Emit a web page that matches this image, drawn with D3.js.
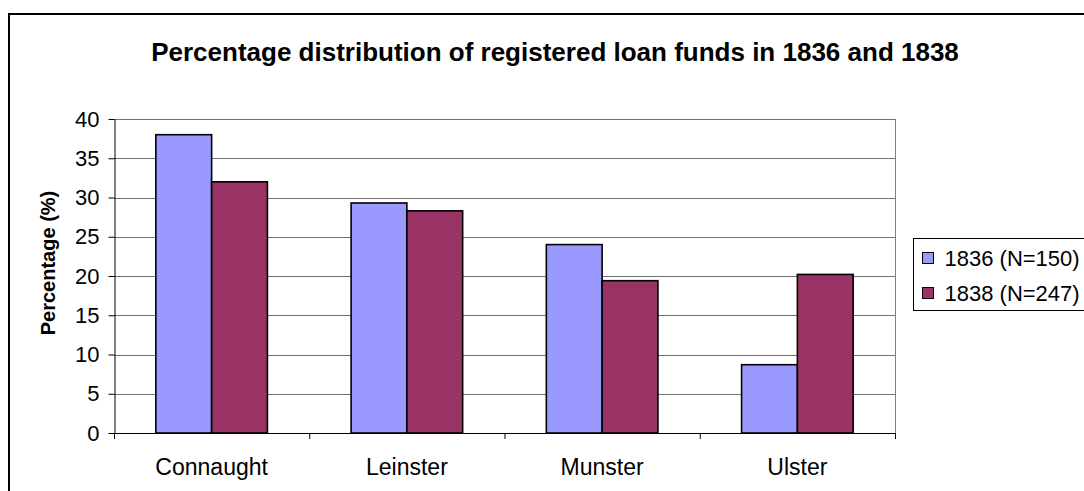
<!DOCTYPE html>
<html>
<head>
<meta charset="utf-8">
<script src="https://cdn.jsdelivr.net/npm/d3@7"></script>
<style>
  body { margin: 0; background: #fff; }
  text { font-family: "Liberation Sans", Arial, sans-serif; }
</style>
</head>
<body>
<svg id="chart"></svg>
<script>
// Data
const regions = ["Connaught", "Leinster", "Munster", "Ulster"];
const seriesNames = ["1836 (N=150)", "1838 (N=247)"];
const values1836 = [38.0, 29.3, 24.0, 8.7];
const values1838 = [32.0, 28.3, 19.4, 20.2];
const yTicks = [0, 5, 10, 15, 20, 25, 30, 35, 40];
const colors = ["#9999ff", "#993366"];

const width = 1084;
const height = 491;

const margin = { top: 119, right: 189, bottom: 58, left: 114 };

const svg = d3.select("#chart")
    .attr("width", width)
    .attr("height", height);

// outer chart border
svg.append("rect")
    .attr("x", 9)
    .attr("y", 14)
    .attr("width", width)
    .attr("height", height)
    .attr("fill", "#fff")
    .attr("stroke", "#000")
    .attr("stroke-width", 2);

svg.append("text")
    .attr("x", 555)
    .attr("y", 61)
    .attr("text-anchor", "middle")
    .attr("font-weight", "bold")
    .attr("font-size", "26px")
    .text("Percentage distribution of registered loan funds in 1836 and 1838");

const x0 = d3.scaleBand()
    .domain(regions)
    .range([margin.left, width - margin.right]);

const x1 = d3.scaleBand()
    .domain(seriesNames)
    .range([0, x0.bandwidth()])
    .paddingOuter(0.75);

const y = d3.scaleLinear()
    .domain([0, 40])
    .range([height - margin.bottom, margin.top]);

// gridlines
svg.append("g")
    .selectAll("line")
    .data(yTicks.slice(1))
    .join("line")
    .attr("x1", margin.left)
    .attr("x2", width - margin.right)
    .attr("y1", d => Math.round(y(d)) + 0.5)
    .attr("y2", d => Math.round(y(d)) + 0.5)
    .attr("stroke", "#707070")
    .attr("stroke-width", 1);

// plot area right border
svg.append("line")
    .attr("x1", width - margin.right + 0.5)
    .attr("x2", width - margin.right + 0.5)
    .attr("y1", y(40))
    .attr("y2", y(0))
    .attr("stroke", "#808080");

const rows = regions.map((r, i) => ({
    region: r,
    vals: [values1836[i], values1838[i]]
}));

svg.append("g")
    .selectAll("g")
    .data(rows)
    .join("g")
    .attr("transform", d => `translate(${x0(d.region)},0)`)
    .selectAll("rect")
    .data(d => d.vals.map((v, j) => ({ key: seriesNames[j], value: v, j: j })))
    .join("rect")
    .attr("x", d => x1(d.key))
    .attr("y", d => y(d.value))
    .attr("width", x1.bandwidth())
    .attr("height", d => y(0) - y(d.value))
    .attr("fill", d => colors[d.j])
    .attr("stroke", "#000")
    .attr("stroke-width", 1.6);

// x axis
const xAxis = svg.append("g")
    .attr("transform", `translate(0,${y(0)})`)
    .call(d3.axisBottom(x0).tickSize(0).tickPadding(26));
xAxis.select(".domain").attr("stroke", "#000");
xAxis.selectAll("text").attr("font-size", "23px").attr("fill", "#000")
    .attr("font-family", "Liberation Sans, Arial, sans-serif");

// category separator ticks
svg.append("g")
    .selectAll("line")
    .data(regions.concat(["end"]))
    .join("line")
    .attr("x1", (d, i) => i < regions.length ? x0(d) + 0.5 : width - margin.right + 0.5)
    .attr("x2", (d, i) => i < regions.length ? x0(d) + 0.5 : width - margin.right + 0.5)
    .attr("y1", y(0))
    .attr("y2", y(0) + 6)
    .attr("stroke", "#000");

// y axis
const yAxis = svg.append("g")
    .attr("transform", `translate(${margin.left + 0.5},0)`)
    .call(d3.axisLeft(y).tickValues(yTicks).tickSize(6).tickPadding(9).tickSizeOuter(0));
yAxis.select(".domain").attr("stroke", "#000");
yAxis.selectAll("line").attr("stroke", "#000");
yAxis.selectAll("text").attr("font-size", "22px").attr("fill", "#000")
    .attr("font-family", "Liberation Sans, Arial, sans-serif");

svg.append("text")
    .attr("transform", "rotate(-90)")
    .attr("x", -263)
    .attr("y", 55)
    .attr("text-anchor", "middle")
    .attr("font-weight", "bold")
    .attr("font-size", "20px")
    .text("Percentage (%)");

// legend
const legend = svg.append("g")
    .attr("transform", "translate(913.5,238.5)");

legend.append("rect")
    .attr("width", 200)
    .attr("height", 72)
    .attr("fill", "#fff")
    .attr("stroke", "#000");

seriesNames.forEach((s, i) => {
    legend.append("rect")
        .attr("x", 9)
        .attr("y", 14 + i * 35)
        .attr("width", 11)
        .attr("height", 11)
        .attr("fill", colors[i])
        .attr("stroke", "#000");
    legend.append("text")
        .attr("x", 31)
        .attr("y", 27.5 + i * 35)
        .attr("font-size", "22px")
        .text(s);
});
</script>
</body>
</html>
